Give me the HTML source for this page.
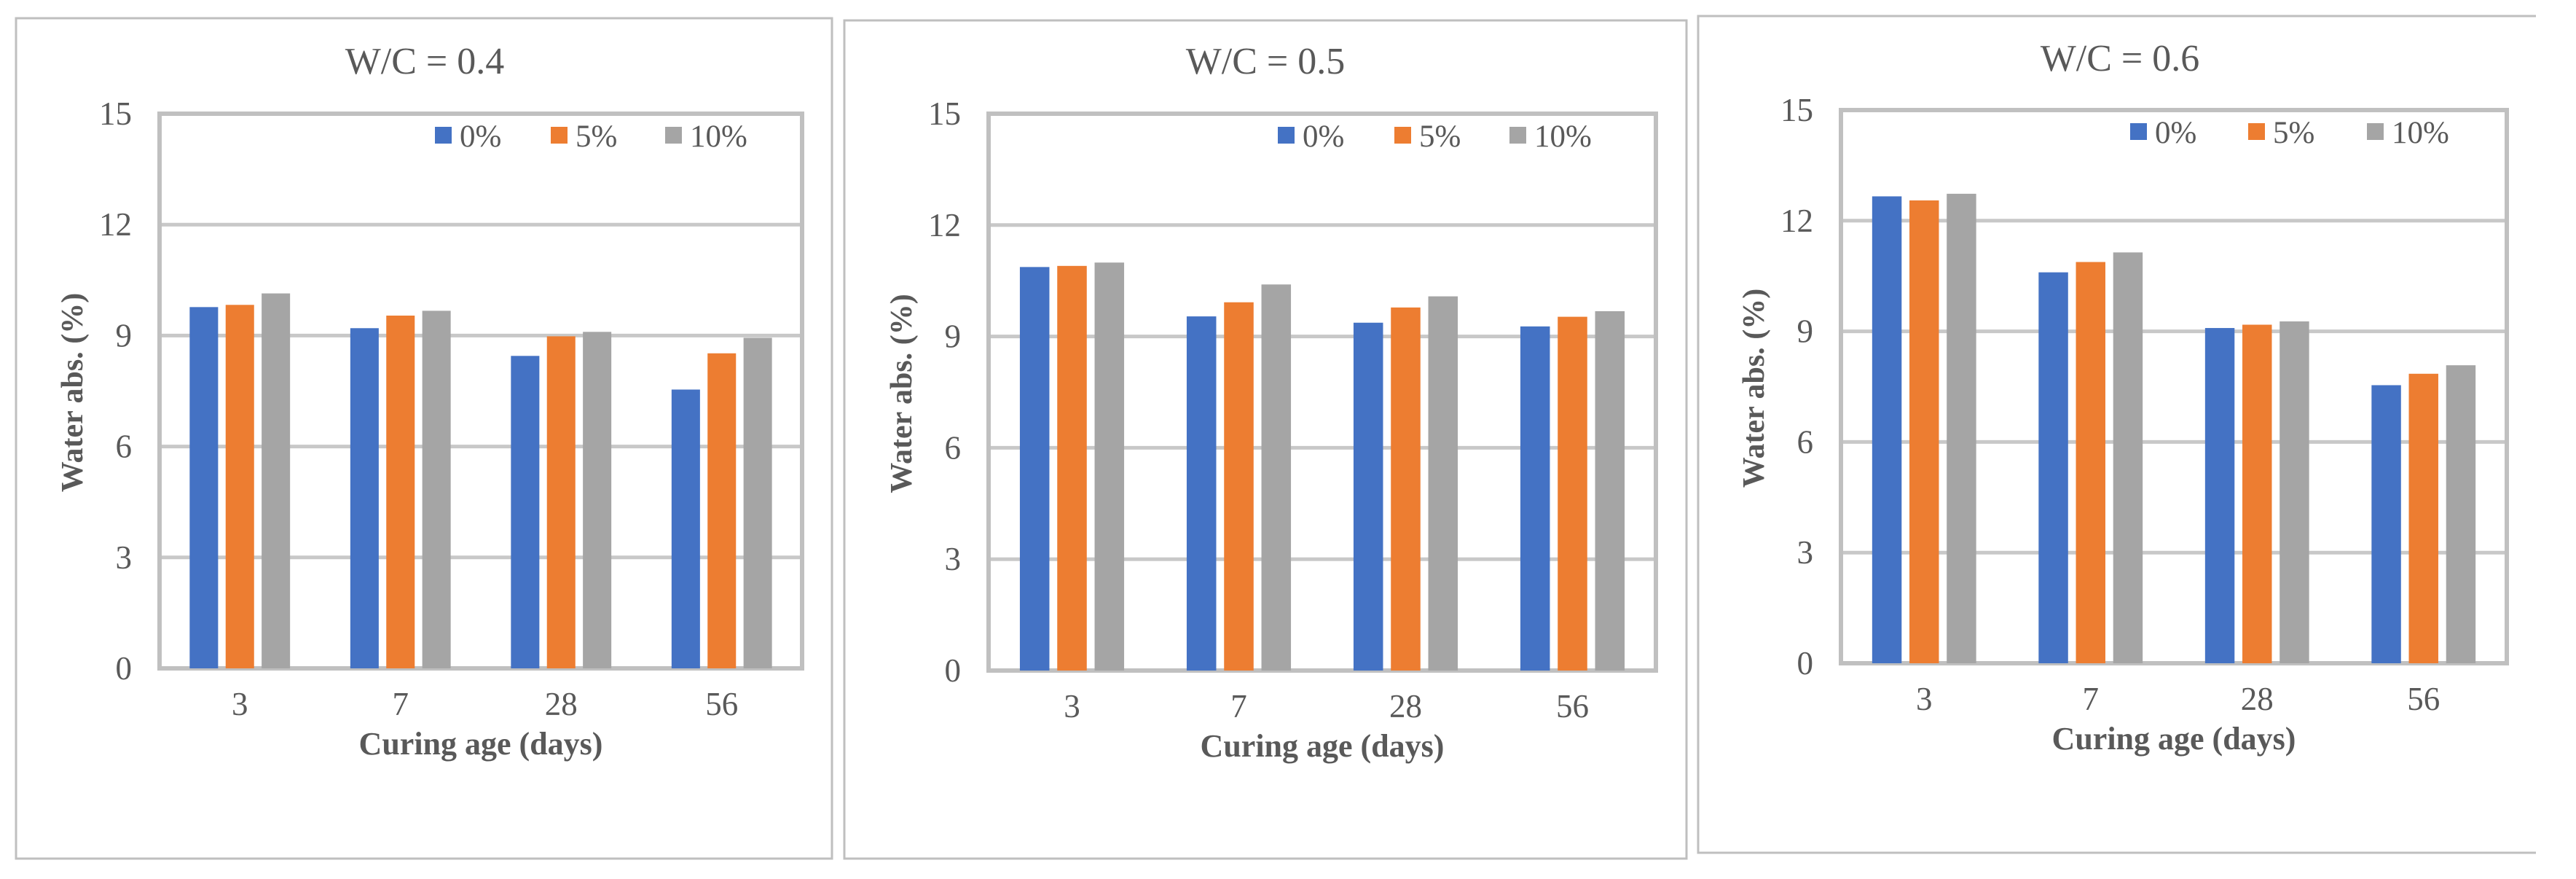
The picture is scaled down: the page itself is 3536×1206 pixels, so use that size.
<!DOCTYPE html>
<html><head><meta charset="utf-8"><style>
html,body{margin:0;padding:0;background:#fff;width:3536px;height:1206px;overflow:hidden}
svg{display:block}
text{font-family:"Liberation Serif",serif;fill:#595959}
</style></head><body>
<svg id="chart" width="3536" height="1206" viewBox="0 0 3536 1206" xmlns="http://www.w3.org/2000/svg"></svg>
<script>
const categories = ["3", "7", "28", "56"];
const seriesNames = ["0%", "5%", "10%"];
const seriesColors = ["#4472c4", "#ed7d31", "#a5a5a5"];
const yTicks = [0, 3, 6, 9, 12, 15];
const titles = ["W/C = 0.4", "W/C = 0.5", "W/C = 0.6"];
const wc04_0 = [9.77, 9.2, 8.45, 7.54];
const wc04_5 = [9.83, 9.54, 8.98, 8.52];
const wc04_10 = [10.14, 9.67, 9.1, 8.94];
const wc05_0 = [10.87, 9.54, 9.37, 9.27];
const wc05_5 = [10.9, 9.92, 9.78, 9.53];
const wc05_10 = [10.99, 10.4, 10.08, 9.68];
const wc06_0 = [12.66, 10.6, 9.09, 7.54];
const wc06_5 = [12.55, 10.88, 9.18, 7.85];
const wc06_10 = [12.73, 11.14, 9.27, 8.08];
const panelValues = [[wc04_0, wc04_5, wc04_10], [wc05_0, wc05_5, wc05_10], [wc06_0, wc06_5, wc06_10]];

const layouts = [
  {fx:22, fy:25, fw:1120, fh:1153, open:false, px:219, py:156, pw:882, ph:761, tx:583, ty:83, leg:[597,756,913]},
  {fx:1159, fy:28, fw:1156, fh:1150, open:false, px:1357, py:156, pw:916, ph:764, tx:1737, ty:83, leg:[1754,1914,2072]},
  {fx:2331, fy:22, fw:1150, fh:1148, open:true, px:2527, py:151, pw:914, ph:759, tx:2910, ty:79, leg:[2924,3086,3249]}
];
const NS = "http://www.w3.org/2000/svg";
const svg = document.getElementById("chart");
function mk(tag, attrs, parent, txt) {
  const e = document.createElementNS(NS, tag);
  for (const k in attrs) e.setAttribute(k, attrs[k]);
  if (txt !== undefined) e.textContent = txt;
  parent.appendChild(e);
  return e;
}
layouts.forEach((L, p) => {
  const g = mk("g", {}, svg);
  
  
  let frame;
  if (L.open) {
    const d = "M" + (L.fx + L.fw) + " " + L.fy + " H" + L.fx + " V" + (L.fy + L.fh) + " H" + (L.fx + L.fw);
    frame = mk("path", {d:d, fill:"none", stroke:"#bfbfbf", "stroke-width":3}, g);
  } else {
    frame = mk("rect", {x:L.fx, y:L.fy, width:L.fw, height:L.fh, fill:"none", stroke:"#bfbfbf", "stroke-width":3}, g);
  }
  
  
  const yScale = v => L.py + L.ph - v / 15 * L.ph;
  const band = L.pw / categories.length;
  const xCenter = i => L.px + band * (i + 0.5);
  const barW = band * 0.177, step = band * 0.224;
  yTicks.forEach(t => {
    const y = yScale(t);
    const gl = mk("line", {x1:L.px, x2:L.px + L.pw, y1:y, y2:y, stroke:"#c8c8c8", "stroke-width":5}, g);
    
    
    const tl = mk("text", {x:L.px - 38, y:y + 15, "text-anchor":"end", "font-size":45}, g, String(t));
    
    
  });
  const border = mk("rect", {x:L.px, y:L.py, width:L.pw, height:L.ph, fill:"none", stroke:"#c0c0c0", "stroke-width":6}, g);
  
  
  panelValues[p].forEach((vals, s) => {
    vals.forEach((v, i) => {
      const x = xCenter(i) + (s - 1) * step - barW / 2;
      const b = mk("rect", {x:x, y:yScale(v), width:barW, height:yScale(0) - yScale(v), fill:seriesColors[s]}, g);
      
      
    });
  });
  categories.forEach((c, i) => {
    const xl = mk("text", {x:xCenter(i), y:L.py + L.ph + 64, "text-anchor":"middle", "font-size":45}, g, c);
    
    
  });
  const t = mk("text", {x:L.tx, y:L.ty + 18, "text-anchor":"middle", "font-size":52}, g, titles[p]);
  
  
  const xt = mk("text", {x:L.px + L.pw / 2, y:L.py + L.ph + 118, "text-anchor":"middle", "font-size":44, "font-weight":"bold"}, g, "Curing age (days)");
  
  
  const ycx = L.px - 120, ycy = L.py + L.ph / 2 + 2;
  const yt = mk("text", {x:ycx, y:ycy, "text-anchor":"middle", "font-size":42, "font-weight":"bold", transform:"rotate(-90 " + ycx + " " + ycy + ") translate(0 14)"}, g, "Water abs. (%)");
  
  
  seriesNames.forEach((n, s) => {
    const lx = L.leg[s], ly = L.py + 30;
    const sw = mk("rect", {x:lx, y:ly - 12, width:23, height:23, fill:seriesColors[s]}, g);
    
    
    const lt = mk("text", {x:lx + 34, y:ly + 15, "font-size":43}, g, n);
    
    
  });
});
</script>
</body></html>
